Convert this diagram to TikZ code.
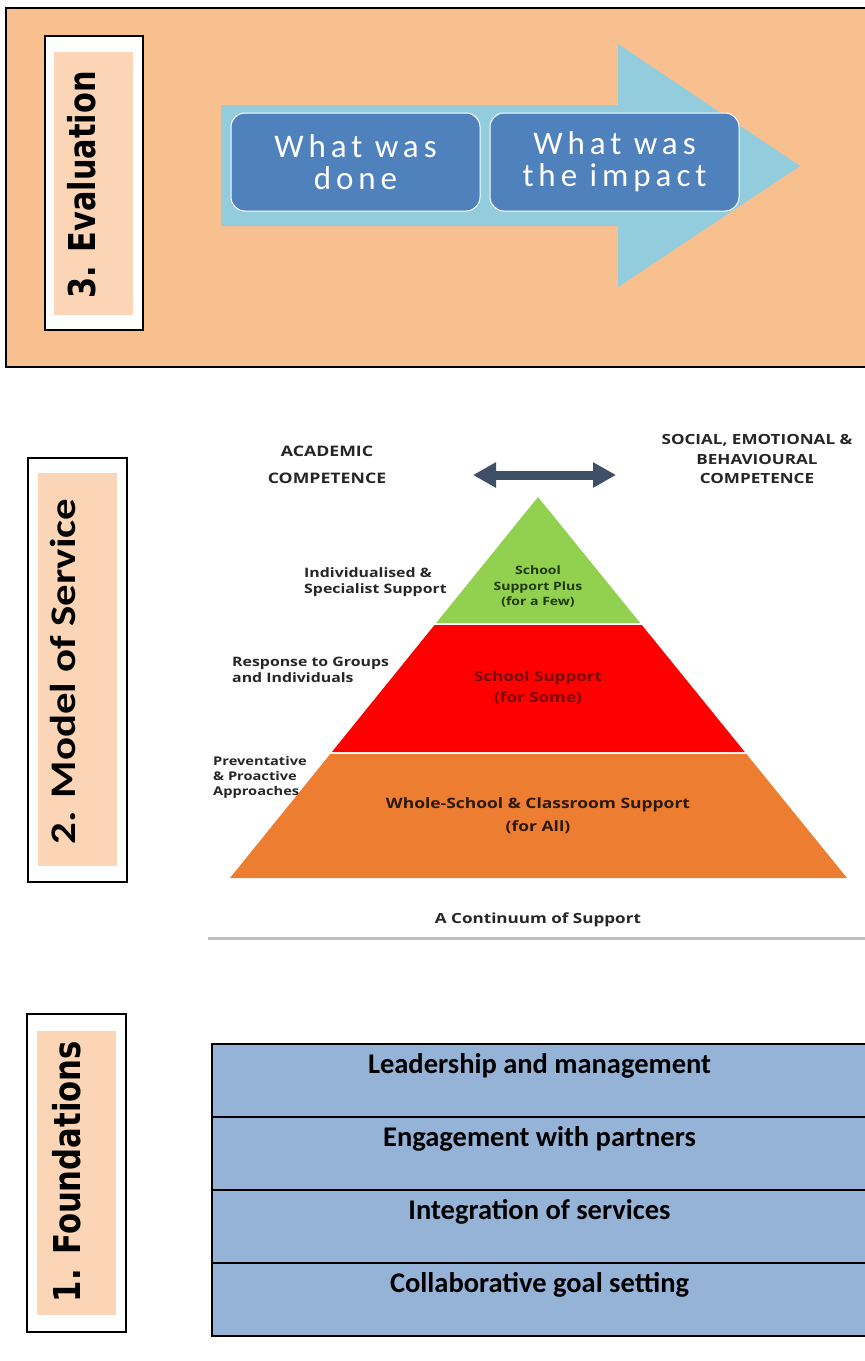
\documentclass[tikz,border=0pt]{standalone}
\usepackage{fontspec}
\usetikzlibrary{arrows.meta}

\newfontfamily\labfont{DejaVu Sans}
\newfontfamily\calfont{Carlito}
\newfontfamily\spacedfont[LetterSpace=15]{Carlito}
\newfontfamily\pyrfont{Open Sans}
\newcommand\pyrsize[2]{\pyrfont\bfseries\fontsize{#1}{#2}\selectfont}

\definecolor{panelorange}{HTML}{F8BF8F}
\definecolor{peach}{HTML}{FBD5B5}
\definecolor{arrowblue}{HTML}{93CDDD}
\definecolor{stepblue}{HTML}{4F81BD}
\definecolor{rowblue}{HTML}{95B3D7}
\definecolor{slate}{HTML}{3F5066}
\definecolor{pyrgreen}{HTML}{92D050}
\definecolor{pyrred}{HTML}{FF0000}
\definecolor{pyrorange}{HTML}{ED7D31}
\definecolor{txtgrey}{HTML}{262626}
\definecolor{txtgreen}{HTML}{1E3A0A}
\definecolor{txtred}{HTML}{7A0A0A}
\definecolor{txtbrown}{HTML}{2B1A0A}

\begin{document}
\begin{tikzpicture}[x=1pt,y=-1pt,
  outerbox/.style={draw=black,line width=2pt,fill=white,inner sep=0pt},
  innerbox/.style={fill=peach,inner sep=0pt},
  sidelabel/.style={rotate=90,anchor=base,inner sep=0pt},
  stepbox/.style={draw=white,line width=1pt,fill=stepblue,rounded corners=14pt,
    minimum width=249pt,minimum height=98pt,align=center,text=white,
    font=\spacedfont\fontsize{33}{32}\selectfont},
  rowbox/.style={draw=black,line width=2pt,fill=rowblue,anchor=north west,
    minimum width=655pt,inner sep=0pt,text height=29pt,text depth=44pt,
    font=\calfont\bfseries\fontsize{28.5}{30}\selectfont},
  pyrtext/.style={font=\pyrsize{13}{16},xscale=1.22,text=txtgrey,inner sep=0pt}]

\useasboundingbox (0,0) rectangle (865,1361);
\fill[white] (0,0) rectangle (865,1361);

% 3. evaluation
\draw[line width=2pt,fill=panelorange] (6,8) rectangle (868,367);
\node[outerbox,minimum width=98pt,minimum height=294pt] (evalout) at (94,183) {};
\node[innerbox,minimum width=79pt,minimum height=263pt] (evalin) at (93.5,183.5) {};
\node[sidelabel,xscale=0.82,font=\labfont\bfseries\fontsize{37}{40}\selectfont]
  (evaltext) at (95,185) {3. Evaluation};

\fill[arrowblue] (221,105) -- (618,105) -- (618,44) -- (800,166)
  -- (618,287) -- (618,226) -- (221,226) -- cycle;
\node[stepbox] (done) at (355.5,162) {What was\\done};
\node[stepbox] (impact) at (614.5,162) {What was\\the impact};

% 2. model of service
\node[outerbox,minimum width=99pt,minimum height=424pt] (modelout) at (77.5,670) {};
\node[innerbox,minimum width=79pt,minimum height=393pt] (modelin) at (77.5,669.5) {};
\node[sidelabel,xscale=1.19,font=\calfont\bfseries\fontsize{36}{40}\selectfont]
  (modeltext) at (75,671.5) {2. Model of Service};

\foreach \ya/\yb/\col in {497/623/pyrgreen,625/752/pyrred,754/878/pyrorange}
{
\fill[\col] ({538-0.8084*(\ya-497)},\ya) -- ({538+0.811*(\ya-497)},\ya)
  -- ({538+0.811*(\yb-497)},\yb) -- ({538-0.8084*(\yb-497)},\yb) -- cycle;
}

\node[pyrtext,align=center,font=\pyrsize{14.5}{27}] (academic) at (327,464.5)
  {ACADEMIC\\COMPETENCE};
\node[pyrtext,align=center,font=\pyrsize{14}{19.5}] (social) at (757,459)
  {SOCIAL, EMOTIONAL \&\\BEHAVIOURAL\\COMPETENCE};
\coordinate (arl) at (473,475);
\coordinate (arr) at (616,475);
\draw[slate,line width=9pt,{Triangle[length=23pt,width=24pt]}-{Triangle[length=23pt,width=24pt]}]
  (arl) -- (arr);

\node[pyrtext,align=left,anchor=west] (indiv) at (304,582)
  {Individualised \&\\Specialist Support};
\node[pyrtext,align=left,anchor=west] (groups) at (232,670)
  {Response to Groups\\and Individuals};
\node[pyrtext,align=left,anchor=west,font=\pyrsize{12}{15}] (prevent) at (213,777)
  {Preventative\\\& Proactive\\Approaches};

\node[pyrtext,align=center,text=txtgreen,font=\pyrsize{11.5}{15.5}] (plus) at (538,587)
  {School\\Support Plus\\(for a Few)};
\node[pyrtext,align=center,text=txtred,font=\pyrsize{14}{21}] (some) at (538,688)
  {School Support\\(for Some)};
\node[pyrtext,align=center,text=txtbrown,font=\pyrsize{14.3}{23}] (all) at (538,816)
  {Whole-School \& Classroom Support\\(for All)};
\node[pyrtext,font=\pyrsize{14}{16}] (continuum) at (538,920) {A Continuum of Support};

\coordinate (rulel) at (208,938);
\coordinate (ruler) at (866,938);
\draw[black!25,line width=3pt] (rulel) -- (ruler);

% 1. foundations
\node[outerbox,minimum width=99pt,minimum height=318pt] (foundout) at (76.5,1173) {};
\node[innerbox,minimum width=79pt,minimum height=284pt] (foundin) at (76.5,1173) {};
\node[sidelabel,xscale=0.83,font=\labfont\bfseries\fontsize{37}{40}\selectfont]
  (foundtext) at (80,1171.5) {1. Foundations};

\foreach \t [count=\i from 0] in {Leadership and management,Engagement with partners,
  Integration of services,Collaborative goal setting}
{
\node[rowbox] (row\i) at (211,{1043+73*\i}) {\t};
}

\end{tikzpicture}
\end{document}
